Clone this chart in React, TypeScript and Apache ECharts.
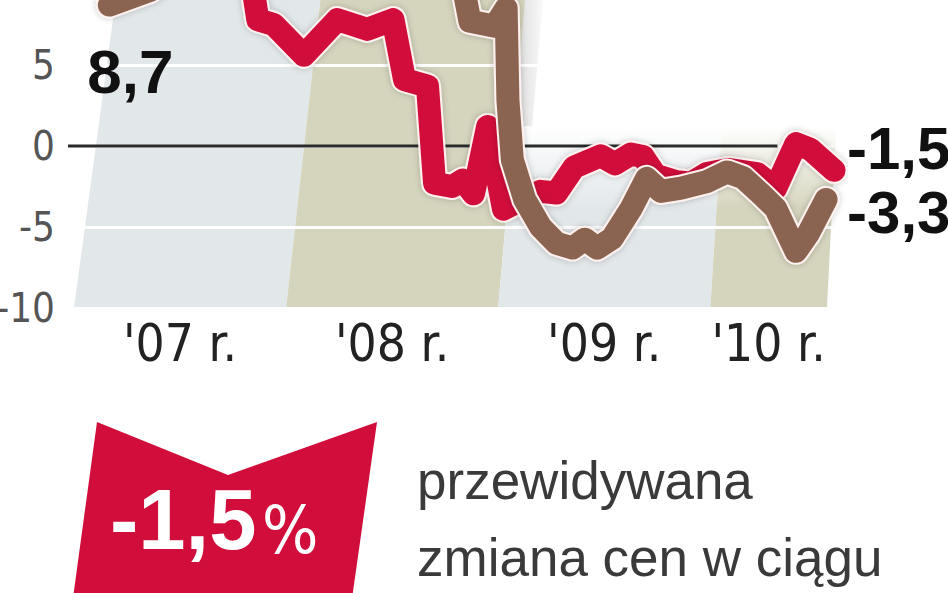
import React, { useEffect, useRef } from "react";
import * as echarts from "echarts";

// Monthly index from January 2007 (0) and the value of each index, in percent
const redSeries: [number, number][] = [
  [1.8, 11.4], [4.5, 12.6], [7.2, 13.9], [9.4, 12.2], [10.1, 9.9],
  [10.4, 7.8], [11.3, 7.5], [13.0, 5.6], [14.9, 7.8], [16.6, 7.2],
  [18.05, 7.8], [18.7, 4.1], [20.0, 3.7], [20.4, -2.3], [21.4, -2.5],
  [22.0, -2.1], [22.6, -2.95], [23.4, 1.2], [24.3, -3.9], [25.35, -3.3],
  [26.4, -2.8], [27.3, -2.9], [28.3, -1.3], [29.8, -0.6], [30.6, -1.1],
  [31.5, -0.5], [32.2, -0.65], [32.9, -1.8], [34.1, -2.2], [34.9, -2.3],
  [35.8, -1.7], [37.0, -1.45], [38.65, -1.7], [39.7, -2.6], [40.85, 0.15],
  [41.65, -0.2], [43.0, -1.5],
];

const brownSeries: [number, number][] = [
  [2.0, 8.7], [4.3, 9.6], [7.0, 11.8], [11.0, 13.6], [15.0, 14.4],
  [18.5, 13.1], [21.2, 11.0], [22.1, 9.4], [22.4, 7.7], [23.8, 7.4],
  [24.45, 8.5], [24.55, 2.85], [24.8, -0.85], [25.5, -3.3], [26.4, -5.0],
  [27.3, -6.0], [28.2, -6.3], [28.9, -5.75], [29.6, -6.3], [30.45, -5.7],
  [31.5, -3.9], [32.4, -2.0], [33.2, -2.8], [34.35, -2.6], [35.8, -2.2],
  [36.95, -1.6], [37.85, -1.95], [38.9, -3.0], [39.7, -3.85], [40.85, -6.5],
  [41.55, -5.4], [42.55, -3.3],
];

const yearLabels = ["'07 r.", "'08 r.", "'09 r.", "'10 r."];
const yearStarts = [0, 12, 24, 36];
const yearEnds = [12, 24, 36, 42.6];
const zeroLineSpan: [number, number] = [-0.34, 39.8];
const forecastChange = -1.5;
const captionLines = ["przewidywana", "zmiana cen w ciągu"];

const X_MIN = 0;
const X_MAX = 43;
const Y_MIN = -10;
const Y_MAX = 10;

// height (in axis units) where the two later year bands stop
const LOW_BAND_TOP = 1.2;
const HIGH_BAND_TOP = 12;

// the chart canvas starts above the page so the +10 gridline falls off-screen
const SHIFT = 16;

const NARROW = '"Liberation Sans Narrow", "DejaVu Sans Condensed", "Liberation Sans", sans-serif';
const SANS = '"Liberation Sans", Arial, sans-serif';
const RED = "#d10d3b";
const BROWN = "#8a6450";
const HALO = "#fff1ef";
const LIGHT = "#e2e7ea";
const OLIVE = "#d5d5be";

const fmt = (v: number) => String(v).replace(".", ",");

const yearMids = yearStarts.map((s, i) => (s + yearEnds[i]) / 2);

function buildOption(): echarts.EChartsOption {
  const bandData = yearStarts.map((s, i) => [s, yearEnds[i]]);

  const lineBase = {
    type: "line" as const,
    showSymbol: false,
    symbol: "none",
    clip: false,
    smooth: false,
  };

  const haloStyle = {
    color: HALO,
    width: 27,
    join: "round",
    cap: "round",
    shadowColor: "rgba(0,0,0,0.22)",
    shadowBlur: 6,
  };

  return {
    animation: false,
    backgroundColor: "#ffffff",
    grid: {
      left: 74,
      right: 114,
      top: 0,
      bottom: 285,
      containLabel: false,
      outerBoundsMode: "none",
    } as any,
    xAxis: {
      type: "value",
      min: X_MIN,
      max: X_MAX,
      axisLine: { show: false },
      axisTick: { show: false },
      splitLine: { show: false },
      axisLabel: {
        customValues: yearMids,
        formatter: (v: number) => {
          const i = yearMids.findIndex((m) => Math.abs(m - v) < 1e-6);
          return i >= 0 ? yearLabels[i] : "";
        },
        fontFamily: NARROW,
        fontSize: 51,
        color: "#222",
        margin: 10,
      },
    } as any,
    yAxis: {
      type: "value",
      min: Y_MIN,
      max: Y_MAX,
      interval: 5,
      axisLine: { show: false },
      axisTick: { show: false },
      splitLine: { show: true, lineStyle: { color: "#ffffff", width: 3 } },
      axisLabel: {
        showMaxLabel: false,
        fontFamily: NARROW,
        fontSize: 40,
        color: "#555",
        margin: 19,
      },
    },
    series: [
      {
        // slanted year bands behind the lines
        type: "custom",
        z: -1,
        silent: true,
        data: bandData,
        renderItem: (params: any, api: any) => {
          const i = params.dataIndex;
          const low = i >= 2;
          const topV = low ? LOW_BAND_TOP : HIGH_BAND_TOP;
          const b0 = api.coord([api.value(0), Y_MIN]);
          const b1 = api.coord([api.value(1), Y_MIN]);
          const t = api.coord([api.value(0), topV])[1];
          const dy = b0[1] - t;
          const cs = params.coordSys;
          const lean = (px: number) => 0.135 - (0.085 * (px - cs.x)) / cs.width;
          const pts = [
            b0,
            b1,
            [b1[0] + lean(b1[0]) * dy, t],
            [b0[0] + lean(b0[0]) * dy, t],
          ];
          const base = i % 2 === 0 ? LIGHT : OLIVE;
          const fill = low
            ? new echarts.graphic.LinearGradient(0, 0, 0, 1, [
                { offset: 0, color: "#ffffff" },
                { offset: 0.45, color: base },
                { offset: 1, color: base },
              ])
            : base;
          const band = { type: "polygon", shape: { points: pts }, style: { fill } };
          if (i !== 1) return band;
          // soft shade where the tall band rises above the lower ones
          const lowY = api.coord([api.value(1), LOW_BAND_TOP])[1];
          const dLow = b1[1] - lowY;
          const xLow = b1[0] + lean(b1[0]) * dLow;
          const xTop = b1[0] + lean(b1[0]) * dy;
          return {
            type: "group",
            children: [
              band,
              {
                type: "polygon",
                shape: {
                  points: [
                    [xTop, t],
                    [xTop + 18, t],
                    [xLow + 18, lowY],
                    [xLow, lowY],
                  ],
                },
                style: {
                  fill: new echarts.graphic.LinearGradient(0, 0, 1, 0, [
                    { offset: 0, color: "rgba(120,120,120,0.28)" },
                    { offset: 1, color: "rgba(120,120,120,0)" },
                  ]),
                },
              },
            ],
          };
        },
      } as any,
      {
        // zero reference line
        type: "custom",
        z: 1,
        silent: true,
        data: [zeroLineSpan],
        renderItem: (_params: any, api: any) => {
          const a = api.coord([api.value(0), 0]);
          const b = api.coord([api.value(1), 0]);
          return {
            type: "line",
            shape: { x1: a[0], y1: a[1], x2: b[0], y2: b[1] },
            style: { stroke: "#2b2b2b", lineWidth: 3 },
          };
        },
      } as any,
      { ...lineBase, z: 2, data: redSeries, lineStyle: haloStyle } as any,
      {
        ...lineBase,
        z: 3,
        data: redSeries,
        lineStyle: { color: RED, width: 23, join: "round", cap: "round" },
        endLabel: {
          show: true,
          formatter: (p: any) => fmt(p.value[1]),
          fontFamily: SANS,
          fontWeight: "bold",
          fontSize: 60,
          color: "#111",
          distance: 13,
          offset: [0, -22],
        },
      } as any,
      { ...lineBase, z: 4, data: brownSeries, lineStyle: haloStyle } as any,
      {
        ...lineBase,
        z: 5,
        data: brownSeries,
        lineStyle: { color: BROWN, width: 23, join: "round", cap: "round" },
        endLabel: {
          show: true,
          formatter: (p: any) => fmt(p.value[1]),
          fontFamily: SANS,
          fontWeight: "bold",
          fontSize: 60,
          color: "#111",
          distance: 21,
          offset: [0, 13],
        },
        markPoint: {
          symbol: "circle",
          symbolSize: 1,
          itemStyle: { color: "rgba(0,0,0,0)" },
          data: [{ coord: brownSeries[0], value: brownSeries[0][1] }],
          label: {
            show: true,
            position: "inside",
            formatter: (p: any) => fmt(p.value),
            fontFamily: SANS,
            fontWeight: "bold",
            fontSize: 62,
            color: "#111",
            offset: [21, 66],
          },
        },
      } as any,
    ],
    graphic: [
      {
        type: "polygon",
        silent: true,
        shape: {
          points: [
            [97, 422 + SHIFT],
            [228, 475 + SHIFT],
            [377, 422 + SHIFT],
            [349, 620 + SHIFT],
            [70, 620 + SHIFT],
          ],
        },
        style: { fill: RED },
      },
      {
        type: "text",
        x: 110,
        y: 519 + SHIFT,
        style: {
          text: fmt(forecastChange),
          fill: "#ffffff",
          fontFamily: SANS,
          fontWeight: "bold",
          fontSize: 85,
          align: "left",
          verticalAlign: "middle",
        },
      },
      {
        type: "text",
        x: 262,
        y: 530 + SHIFT,
        style: {
          text: "%",
          fill: "#ffffff",
          fontFamily: NARROW,
          fontSize: 66,
          align: "left",
          verticalAlign: "middle",
        },
      },
      ...captionLines.map((line, i) => ({
        type: "text",
        x: 417,
        y: 480 + SHIFT + i * 77,
        style: {
          text: line,
          fill: "#3a3a3a",
          fontFamily: SANS,
          fontSize: 53,
          align: "left",
          verticalAlign: "middle",
        },
      })),
    ] as any,
  };
}

export default function App() {
  const ref = useRef<HTMLDivElement>(null);
  useEffect(() => {
    if (!ref.current) return;
    const chart = echarts.init(ref.current, undefined, { renderer: "svg" });
    chart.setOption(buildOption());
    return () => chart.dispose();
  }, []);
  return (
    <div style={{ position: "fixed", left: 0, top: 0, width: 948, height: 593, overflow: "hidden", background: "#ffffff" }}>
      <div
        ref={ref}
        style={{ position: "absolute", left: 0, top: -SHIFT, width: 948, height: 593 + SHIFT }}
      />
    </div>
  );
}
